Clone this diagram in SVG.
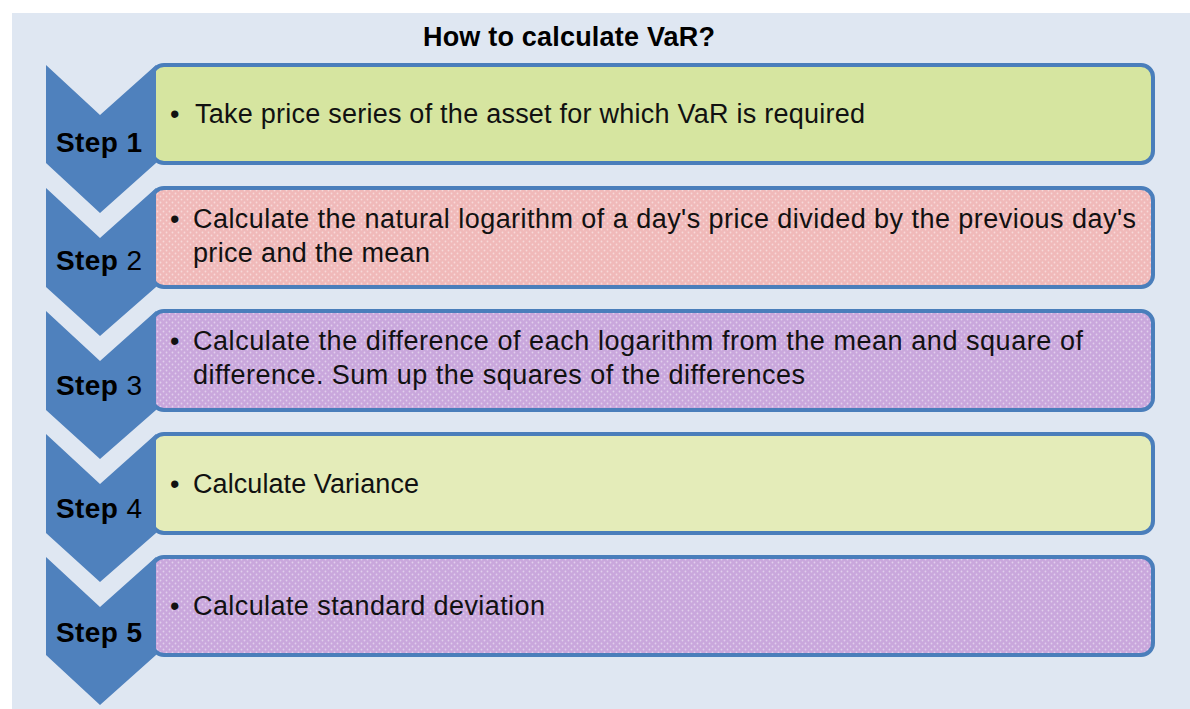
<svg xmlns="http://www.w3.org/2000/svg" width="1190" height="709" viewBox="0 0 1190 709">
<defs>
<pattern id="dots" width="6" height="6" patternUnits="userSpaceOnUse">
<circle cx="1.5" cy="1.5" r="0.9" fill="#ffffff" fill-opacity="0.45"/>
<circle cx="4.5" cy="4.5" r="0.9" fill="#ffffff" fill-opacity="0.45"/>
</pattern>
<style>
.box{stroke:#4a7ebb;stroke-width:4}
.chev{fill:#4f81bd}
.step{font-family:"Liberation Sans",Arial,sans-serif;font-size:28px;font-weight:bold;fill:#000}
.num{font-weight:normal}
.txt{font-family:"Liberation Sans",Arial,sans-serif;font-size:27px;fill:#111}
.title{font-family:"Liberation Sans",Arial,sans-serif;font-size:27px;font-weight:bold;fill:#000}
</style>
</defs>
<rect x="0" y="0" width="1190" height="709" fill="#ffffff"/>
<rect x="12" y="13" width="1178" height="696" fill="#dfe7f2"/>
<text class="title" x="569" y="46" text-anchor="middle" textLength="292">How to calculate VaR?</text>

<g id="step1">
<rect class="box" x="152" y="65" width="1001" height="98" rx="12" fill="#d6e5a0"/>
<polygon class="chev" points="46,65 100,115 156,65 156,163 100,213 46,163"/>
<text class="step" x="56" y="152" textLength="86">Step 1</text>
<text class="txt" x="170" y="123">•</text>
<text class="txt" x="195" y="123" textLength="670">Take price series of the asset for which VaR is required</text>
</g>

<g id="step2">
<rect class="box" x="152" y="188" width="1001" height="99" rx="12" fill="#f0b9b9"/>
<rect x="154" y="190" width="997" height="95" rx="10" fill="url(#dots)"/>
<polygon class="chev" points="46,188 100,238 156,188 156,287 100,336 46,287"/>
<text class="step" x="56" y="270" textLength="86">Step <tspan class="num">2</tspan></text>
<text class="txt" x="170" y="228">•</text>
<text class="txt" x="193" y="228" textLength="943">Calculate the natural logarithm of a day's price divided by the previous day's</text>
<text class="txt" x="193" y="262" textLength="237">price and the mean</text>
</g>

<g id="step3">
<rect class="box" x="152" y="311" width="1001" height="99" rx="12" fill="#c9a7dc"/>
<rect x="154" y="313" width="997" height="95" rx="10" fill="url(#dots)"/>
<polygon class="chev" points="46,311 100,361 156,311 156,410 100,459 46,410"/>
<text class="step" x="56" y="395" textLength="86">Step <tspan class="num">3</tspan></text>
<text class="txt" x="170" y="350">•</text>
<text class="txt" x="193" y="350" textLength="890">Calculate the difference of each logarithm from the mean and square of</text>
<text class="txt" x="193" y="384" textLength="612">difference. Sum up the squares of the differences</text>
</g>

<g id="step4">
<rect class="box" x="152" y="434" width="1001" height="99" rx="12" fill="#e4ecb9"/>
<polygon class="chev" points="46,434 100,484 156,434 156,533 100,582 46,533"/>
<text class="step" x="56" y="518" textLength="86">Step <tspan class="num">4</tspan></text>
<text class="txt" x="170" y="493">•</text>
<text class="txt" x="193" y="493" textLength="226">Calculate Variance</text>
</g>

<g id="step5">
<rect class="box" x="152" y="557" width="1001" height="98" rx="12" fill="#c9a7dc"/>
<rect x="154" y="559" width="997" height="94" rx="10" fill="url(#dots)"/>
<polygon class="chev" points="46,557 100,607 156,557 156,655 100,705 46,655"/>
<text class="step" x="56" y="642" textLength="86">Step 5</text>
<text class="txt" x="170" y="615">•</text>
<text class="txt" x="193" y="615" textLength="352">Calculate standard deviation</text>
</g>

<g id="connectors"></g>
</svg>
